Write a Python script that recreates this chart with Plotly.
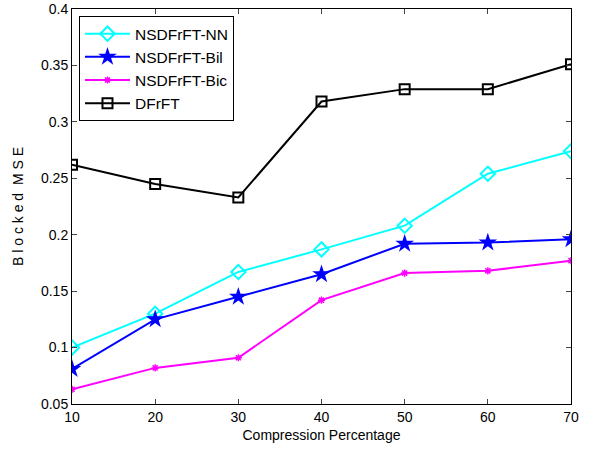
import plotly.graph_objects as go

x = [10, 20, 30, 40, 50, 60, 70]
nn = [0.100, 0.130, 0.167, 0.187, 0.208, 0.254, 0.274]
bil = [0.081, 0.125, 0.145, 0.165, 0.192, 0.193, 0.196]
bic = [0.063, 0.082, 0.091, 0.142, 0.166, 0.168, 0.177]
dfrft = [0.262, 0.245, 0.233, 0.318, 0.329, 0.329, 0.351]
yticks = [0.05, 0.1, 0.15, 0.2, 0.25, 0.3, 0.35, 0.4]
yticktext = ["0.05", "0.1", "0.15", "0.2", "0.25", "0.3", "0.35", "0.4"]

fig = go.Figure()
fig.add_trace(go.Scatter(x=x, y=nn, name="NSDFrFT-NN", mode="lines+markers",
                         line=dict(color="#00FFFF", width=2),
                         marker=dict(symbol="diamond-open", size=11, color="#00FFFF", line=dict(width=2))))
fig.add_trace(go.Scatter(x=x, y=bil, name="NSDFrFT-Bil", mode="lines+markers",
                         line=dict(color="#0000FF", width=2),
                         marker=dict(symbol="star", size=14, color="#0000FF")))
fig.add_trace(go.Scatter(x=x, y=bic, name="NSDFrFT-Bic", mode="lines+markers",
                         line=dict(color="#FF00FF", width=2),
                         marker=dict(symbol="asterisk-open", size=6, color="#FF00FF", line=dict(width=1.5, color="#FF00FF"))))
fig.add_trace(go.Scatter(x=x, y=dfrft, name="DFrFT", mode="lines+markers",
                         line=dict(color="#000000", width=2),
                         marker=dict(symbol="square-open", size=10, color="#000000", line=dict(width=2))))

fig.update_layout(
    width=598, height=450,
    margin=dict(l=72, r=27, t=9, b=46, autoexpand=False),
    paper_bgcolor="white", plot_bgcolor="white",
    font=dict(family="Liberation Sans, Arial", size=14, color="black"),
    showlegend=True,
    legend=dict(x=0.014, y=0.982, xanchor="left", yanchor="top",
                bordercolor="black", borderwidth=1, bgcolor="white",
                font=dict(size=15.5), tracegroupgap=0, itemwidth=45),
)
fig.update_xaxes(range=[10, 70], tickvals=x, ticks="inside", ticklen=5,
                 showline=True, linecolor="black", linewidth=1, mirror="ticks",
                 showgrid=False, zeroline=False, automargin=False,
                 title=dict(text="Compression Percentage", standoff=6, font=dict(size=14)))
fig.update_yaxes(range=[0.05, 0.4], tickvals=yticks, ticktext=yticktext,
                 ticks="inside", ticklen=5,
                 showline=True, linecolor="black", linewidth=1, mirror="ticks",
                 showgrid=False, zeroline=False, automargin=False,
                 title=dict(text="B\u00a0l\u00a0o\u00a0c\u00a0k\u00a0e\u00a0d\u00a0\u00a0M\u00a0S\u00a0E",
                            standoff=14, font=dict(size=14)))

fig.write_html("out.html", config={"displayModeBar": False},
               post_script="document.body.style.margin='0';")
